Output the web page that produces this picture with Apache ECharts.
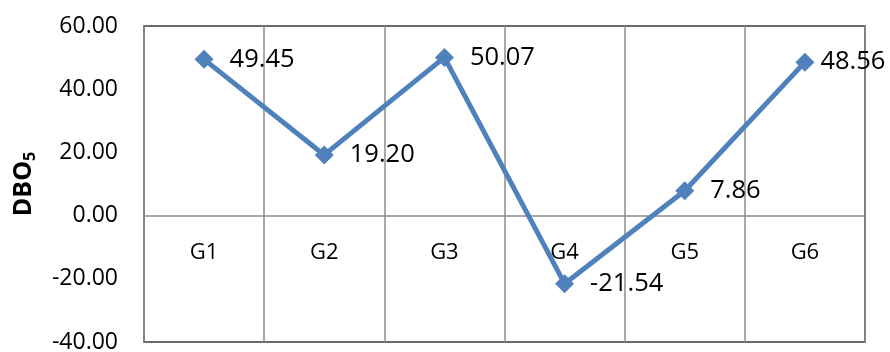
<!DOCTYPE html>
<html>
<head>
<meta charset="utf-8">
<script src="https://cdn.jsdelivr.net/npm/echarts@6/dist/echarts.min.js"></script>
<style>
  html, body { margin: 0; padding: 0; background: #fff; }
  #chart { width: 890px; height: 352px; }
</style>
</head>
<body>
<div id="chart"></div>
<script>
// Groups and their DBO5 values
const categories = ['G1', 'G2', 'G3', 'G4', 'G5', 'G6'];
const dboValues = [49.45, 19.20, 50.07, -21.54, 7.86, 48.56];
const yMin = -40, yMax = 60, yStep = 20;

const FONT = '"Open Sans", sans-serif';
const GRID_TOP = 26, GRID_BOTTOM = 10, CHART_H = 352;
const plotH = CHART_H - GRID_TOP - GRID_BOTTOM;
// category axis sits on the zero line of the value axis
const zeroOffset = -plotH * (0 - yMin) / (yMax - yMin);

// the last label is pulled in closer so it stays inside the canvas
const seriesData = dboValues.map((v, i) =>
  i === dboValues.length - 1 ? { value: v, label: { distance: 6 } } : v
);

const chart = echarts.init(document.getElementById('chart'));

chart.setOption({
  animation: false,
  backgroundColor: '#ffffff',
  grid: {
    left: 144, top: GRID_TOP, right: 25, bottom: GRID_BOTTOM,
    show: true,
    borderColor: '#3a3a3a',
    borderWidth: 1.5,
    containLabel: false,
    outerBoundsMode: 'none'
  },
  xAxis: {
    type: 'category',
    data: categories,
    boundaryGap: true,
    offset: zeroOffset,
    axisLine: { onZero: false, lineStyle: { color: '#8c8c8c', width: 1.5 } },
    axisTick: { show: false },
    axisLabel: { color: '#000', fontFamily: FONT, fontSize: 22, margin: 26 },
    splitLine: { show: true, interval: 0, lineStyle: { color: '#8c8c8c', width: 1.5 } }
  },
  yAxis: {
    type: 'value',
    min: yMin, max: yMax, interval: yStep,
    axisLine: { show: false },
    axisTick: { show: false },
    splitLine: { show: false },
    axisLabel: {
      color: '#000', fontFamily: FONT, fontSize: 23, margin: 26,
      formatter: v => v.toFixed(2)
    },
    name: '{m|DBO}{s|5}',
    nameLocation: 'middle',
    nameGap: 106,
    nameRotate: 90,
    nameTextStyle: {
      rich: {
        m: { fontFamily: FONT, fontSize: 25, fontWeight: 'bold', color: '#000' },
        s: { fontFamily: FONT, fontSize: 16, fontWeight: 'bold', color: '#000', padding: [12, 0, 0, 0] }
      }
    }
  },
  series: [{
    type: 'line',
    data: seriesData,
    symbol: 'diamond',
    symbolSize: 19,
    lineStyle: { color: '#4f81bd', width: 5 },
    itemStyle: { color: '#4f81bd' },
    label: {
      show: true,
      position: 'right',
      distance: 16,
      color: '#000',
      fontFamily: FONT,
      fontSize: 25.5,
      formatter: p => p.value.toFixed(2)
    }
  }]
});
</script>
</body>
</html>
